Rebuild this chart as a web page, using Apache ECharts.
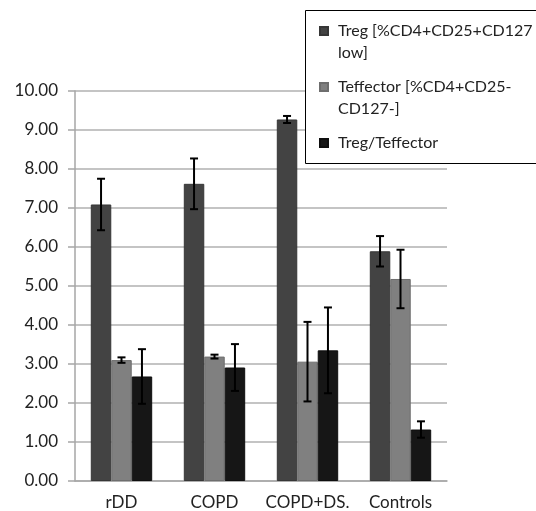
<!DOCTYPE html>
<html>
<head>
<meta charset="utf-8">
<script src="https://cdn.jsdelivr.net/npm/echarts@6/dist/echarts.min.js"></script>
<style>html,body{margin:0;padding:0;background:#fff}#c{width:536px;height:511px}</style>
</head>
<body>
<div id="c"></div>
<script>
var categories = ['rDD', 'COPD', 'COPD+DS.', 'Controls'];
var seriesNames = ['Treg', 'Teffector', 'Treg/Teffector'];
var legendLabels = ['\nTreg [%CD4+CD25+CD127\nlow]', '\nTeffector [%CD4+CD25-\nCD127-]', '\nTreg/Teffector\n'];
var tregValues = [7.09, 7.62, 9.27, 5.89];
var tregErrors = [0.66, 0.65, 0.09, 0.39];
var teffValues = [3.10, 3.19, 3.06, 5.18];
var teffErrors = [0.07, 0.05, 1.02, 0.75];
var ratioValues = [2.68, 2.91, 3.35, 1.32];
var ratioErrors = [0.70, 0.60, 1.10, 0.21];
var yTicks = [0, 1, 2, 3, 4, 5, 6, 7, 8, 9, 10];

var values = [tregValues, teffValues, ratioValues];
var errors = [tregErrors, teffErrors, ratioErrors];
var colors = ['#434343', '#808080', '#161616'];
var borders = ['#363636', '#6e6e6e', '#0e0e0e'];
var barFrac = 0.22;

var chart = echarts.init(document.getElementById('c'), null, {renderer: 'canvas'});

function errSeries(idx) {
  var data = values[idx].map(function (v, i) { return [i, v, errors[idx][i]]; });
  return {
    type: 'custom',
    name: seriesNames[idx] + ' err',
    z: 5,
    silent: true,
    data: data,
    renderItem: function (params, api) {
      var ci = api.value(0), v = api.value(1), e = api.value(2);
      var band = api.size([1, 0])[0];
      var off = (idx - 1) * band * barFrac;
      var top = api.coord([ci, v + e]);
      var bot = api.coord([ci, v - e]);
      var x = top[0] + off;
      var cap = 4;
      var st = {stroke: '#000', lineWidth: 2};
      return {
        type: 'group',
        children: [
          {type: 'line', shape: {x1: x, y1: top[1], x2: x, y2: bot[1]}, style: st},
          {type: 'line', shape: {x1: x - cap, y1: top[1], x2: x + cap, y2: top[1]}, style: st},
          {type: 'line', shape: {x1: x - cap, y1: bot[1], x2: x + cap, y2: bot[1]}, style: st}
        ]
      };
    }
  };
}

var series = [];
for (var s = 0; s < 3; s++) {
  series.push({
    type: 'bar',
    name: seriesNames[s],
    data: values[s],
    barWidth: (barFrac * 100) + '%',
    barGap: '0%',
    itemStyle: {color: colors[s], borderColor: borders[s], borderWidth: 1}
  });
}
for (var s2 = 0; s2 < 3; s2++) series.push(errSeries(s2));

var option = {
  animation: false,
  backgroundColor: '#fff',
  grid: {left: 75, right: 89, top: 91, bottom: 28.5, containLabel: false},
  xAxis: {
    type: 'category',
    data: categories,
    axisLine: {lineStyle: {color: '#a6a6a6', width: 1.5}},
    axisTick: {show: false},
    axisLabel: {interval: 0, fontFamily: 'Lato', fontSize: 17, color: '#222', margin: 13}
  },
  yAxis: {
    type: 'value',
    min: yTicks[0],
    max: yTicks[yTicks.length - 1],
    interval: 1,
    axisLine: {show: true, lineStyle: {color: '#a6a6a6', width: 1.5}},
    axisTick: {show: true, length: 7, lineStyle: {color: '#a6a6a6', width: 1.5}},
    splitLine: {lineStyle: {color: '#b0b0b0', width: 1.5}},
    axisLabel: {
      fontFamily: 'Lato', fontSize: 17, color: '#222', margin: 17,
      formatter: function (v) { return v.toFixed(2); }
    }
  },
  legend: {
    orient: 'vertical',
    left: 319,
    top: -2,
    padding: 0,
    z: 20,
    itemWidth: 8,
    itemHeight: 8,
    itemGap: -10,
    icon: 'rect',
    data: seriesNames,
    selectedMode: false,
    formatter: function (n) { return legendLabels[seriesNames.indexOf(n)]; },
    textStyle: {fontFamily: 'Lato', fontSize: 16, color: '#222', lineHeight: 22, padding: [0, 0, 0, 5]}
  },
  graphic: [{
    type: 'rect',
    z: 10,
    shape: {x: 305.5, y: 10.5, width: 260, height: 153},
    style: {fill: '#fff', stroke: '#000', lineWidth: 1}
  }],
  series: series
};
chart.setOption(option);
</script>
</body>
</html>
